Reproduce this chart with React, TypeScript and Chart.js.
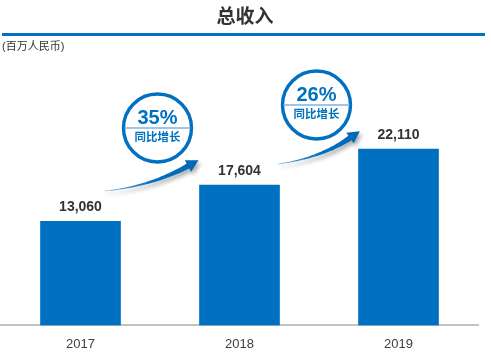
import React, { useEffect, useRef } from "react";
import { Chart, registerables } from "chart.js";
Chart.register(...registerables);

const categories = ["2017", "2018", "2019"];
const revenue = [13060, 17604, 22110];
const valueLabels = ["13,060", "17,604", "22,110"];
const growthLabels = ["35%", "26%"];
const growthCaption = "同比增长";
const titleText = "总收入";
const unitText = "(百万人民币)";

const BLUE = "#0070C0";
const FONT = "'Liberation Sans', 'Noto Sans CJK SC', Arial, sans-serif";

type P = [number, number];

function drawArrow(ctx: CanvasRenderingContext2D, tail: P, ctrl: P, base: P, headLen: number, headHalf: number, shaftW: number) {
  const N = 40;
  const up: P[] = [];
  const dn: P[] = [];
  for (let i = 0; i <= N; i++) {
    const t = i / N;
    const x = (1 - t) * (1 - t) * tail[0] + 2 * (1 - t) * t * ctrl[0] + t * t * base[0];
    const y = (1 - t) * (1 - t) * tail[1] + 2 * (1 - t) * t * ctrl[1] + t * t * base[1];
    const dx = 2 * (1 - t) * (ctrl[0] - tail[0]) + 2 * t * (base[0] - ctrl[0]);
    const dy = 2 * (1 - t) * (ctrl[1] - tail[1]) + 2 * t * (base[1] - ctrl[1]);
    const l = Math.hypot(dx, dy);
    const nx = -dy / l;
    const ny = dx / l;
    const w = (shaftW / 2) * (0.08 + 0.92 * Math.pow(t, 1.3));
    up.push([x + nx * w, y + ny * w]);
    dn.push([x - nx * w, y - ny * w]);
  }
  const ddx = base[0] - ctrl[0];
  const ddy = base[1] - ctrl[1];
  const dl = Math.hypot(ddx, ddy);
  const ux = ddx / dl;
  const uy = ddy / dl;
  const tip: P = [base[0] + ux * headLen, base[1] + uy * headLen];
  ctx.beginPath();
  ctx.moveTo(up[0][0], up[0][1]);
  for (const p of up) ctx.lineTo(p[0], p[1]);
  ctx.lineTo(base[0] - uy * headHalf, base[1] + ux * headHalf);
  ctx.lineTo(tip[0], tip[1]);
  ctx.lineTo(base[0] + uy * headHalf, base[1] - ux * headHalf);
  for (let i = dn.length - 1; i >= 0; i--) ctx.lineTo(dn[i][0], dn[i][1]);
  ctx.closePath();
  const g = ctx.createLinearGradient(tail[0], tail[1], tip[0], tip[1]);
  g.addColorStop(0, "#5fa3dc");
  g.addColorStop(0.5, BLUE);
  g.addColorStop(1, "#0068b5");
  ctx.fillStyle = g;
  ctx.fill();
}

function drawBadge(ctx: CanvasRenderingContext2D, cx: number, cy: number, r: number, pct: string) {
  ctx.save();
  ctx.beginPath();
  ctx.arc(cx, cy, r, 0, Math.PI * 2);
  ctx.fillStyle = "#ffffff";
  ctx.fill();
  ctx.lineWidth = 3.4;
  ctx.strokeStyle = BLUE;
  ctx.stroke();
  const half = r - 1;
  ctx.beginPath();
  ctx.moveTo(cx - half, cy);
  ctx.lineTo(cx + half, cy);
  ctx.lineWidth = 1.5;
  ctx.strokeStyle = "#7fb3e0";
  ctx.stroke();
  ctx.fillStyle = BLUE;
  ctx.textAlign = "center";
  ctx.textBaseline = "middle";
  ctx.font = `bold 20px ${FONT}`;
  ctx.fillText(pct, cx, cy - 10);
  ctx.font = `bold 11.5px ${FONT}`;
  ctx.fillText(growthCaption, cx, cy + 10);
  ctx.restore();
}

const decorPlugin = {
  id: "decor",
  afterDraw(chart: any) {
    const ctx: CanvasRenderingContext2D = chart.ctx;
    ctx.save();
    ctx.fillStyle = "#333333";
    ctx.textAlign = "center";
    ctx.textBaseline = "middle";
    ctx.font = `bold 19px ${FONT}`;
    ctx.fillText(titleText, 245, 18);
    ctx.beginPath();
    ctx.moveTo(2, 34.5);
    ctx.lineTo(485, 34.5);
    ctx.lineWidth = 3;
    ctx.strokeStyle = BLUE;
    ctx.stroke();
    ctx.textAlign = "left";
    ctx.font = `11px ${FONT}`;
    ctx.fillStyle = "#333333";
    ctx.fillText(unitText, 2, 47);

    const meta = chart.getDatasetMeta(0);
    ctx.textAlign = "center";
    ctx.font = `bold 14px ${FONT}`;
    ctx.fillStyle = "#333333";
    meta.data.forEach((bar: any, i: number) => {
      ctx.fillText(valueLabels[i], bar.x, bar.y - 14);
    });

    ctx.save();
    ctx.shadowColor = "rgba(0,0,0,0.35)";
    ctx.shadowBlur = 4;
    ctx.shadowOffsetX = 2;
    ctx.shadowOffsetY = 3;
    drawArrow(ctx, [105, 191], [152, 186], [188, 166], 12, 6.5, 5.5);
    drawArrow(ctx, [278, 164], [321, 158], [350, 138], 12, 6.5, 5.5);
    ctx.restore();

    const x0 = meta.data[0].x, x1 = meta.data[1].x, x2 = meta.data[2].x;
    drawBadge(ctx, (x0 + x1) / 2 - 2.5, 128, 34, growthLabels[0]);
    drawBadge(ctx, (x1 + x2) / 2 - 2.5, 105, 34, growthLabels[1]);
    ctx.restore();
  },
};

export default function App() {
  const ref = useRef<HTMLCanvasElement | null>(null);
  useEffect(() => {
    if (!ref.current) return;
    const chart = new Chart(ref.current, {
      type: "bar",
      data: {
        labels: categories,
        datasets: [
          {
            data: revenue,
            backgroundColor: BLUE,
            borderWidth: 0,
            barThickness: 80,
          },
        ],
      },
      options: {
        animation: false,
        responsive: true,
        maintainAspectRatio: false,
        layout: { padding: { top: 118, left: 1, right: 13, bottom: -6 } },
        plugins: {
          legend: { display: false },
          tooltip: { enabled: false },
          title: { display: false },
        },
        scales: {
          x: {
            grid: { display: false, drawTicks: false },
            border: { display: true, color: "#c3c3c3", width: 2 },
            ticks: {
              color: "#404040",
              font: { size: 13, family: FONT },
              padding: 11,
            },
          },
          y: {
            display: false,
            min: 0,
            max: 26000,
          },
        },
      },
      plugins: [decorPlugin],
    });
    return () => chart.destroy();
  }, []);
  return (
    <div style={{ position: "fixed", left: 0, top: 0, width: 491, height: 357, background: "#fff" }}>
      <canvas ref={ref} />
    </div>
  );
}
